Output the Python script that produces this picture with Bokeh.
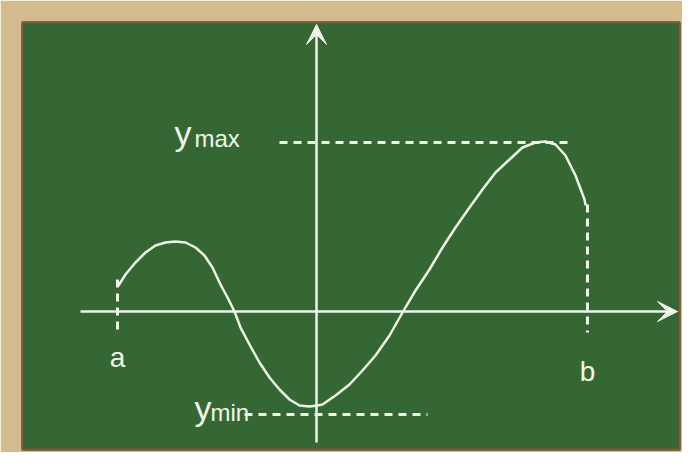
from bokeh.plotting import figure
from bokeh.models import Range1d, Arrow, VeeHead
from bokeh.core.properties import value
from bokeh.embed import file_html
from bokeh.resources import INLINE

# ---- data (origin at axis crossing, y up) ----
curve_x = [-198, -191, -181, -171, -161, -151, -141, -131, -121, -112, -104, -96, -89,
           -82, -76, -67, -57, -47, -37, -27, -17, -7, 1,
           6, 19, 33, 46, 59, 73, 86, 99, 113, 126, 139, 153, 166, 179, 193, 206,
           219, 229, 239, 249, 259, 268, 269]
curve_y = [26, 37, 49, 59, 66, 69, 70, 69, 64, 56, 44, 27, 14,
           0, -16, -33, -51, -66, -78, -88, -94, -95, -94,
           -93, -84, -73, -59, -44, -24, -1, 21, 42, 64, 84, 104, 122, 139, 152, 164,
           169, 170, 167, 156, 136, 112, 107]

a_x, b_x = -199, 271
a_drop = [32, -23]
b_drop = [107, -21]
y_max, y_min = 169, -103
ymax_span = [-37, 254]
ymin_span = [-72, 111]

x_axis_span = [-236, 361]
y_axis_span = [-131, 287]

labels = ["a", "b"]
label_x = [-199, 271]
label_y = [-46, -60]

sub_labels = ["max", "min"]
y_letter_x = [-142, -122]
y_letter_y = [179, -96]
sub_x = [-122, -106]
sub_y = [173, -101]

CHALK = "#eef6e8"
BOARD = "#356734"
WOOD = "#d3bb8e"

p = figure(width=682, height=452, output_backend="svg", toolbar_location=None,
           x_range=Range1d(-294, 363), y_range=Range1d(-138, 289),
           min_border_left=22, min_border_top=22, min_border_right=3, min_border_bottom=3)
p.axis.visible = False
p.grid.visible = False
p.background_fill_color = BOARD
p.border_fill_color = WOOD
p.outline_line_color = "#6a5232"
p.outline_line_width = 3
p.outline_line_alpha = 0.8

# axes with arrowheads
p.add_layout(Arrow(end=VeeHead(size=20, fill_color=CHALK, line_color=CHALK, line_width=1),
                   x_start=x_axis_span[0], y_start=0, x_end=x_axis_span[1], y_end=0,
                   line_color=CHALK, line_width=2.5))
p.add_layout(Arrow(end=VeeHead(size=20, fill_color=CHALK, line_color=CHALK, line_width=1),
                   x_start=0, y_start=y_axis_span[0], x_end=0, y_end=y_axis_span[1],
                   line_color=CHALK, line_width=2.5))

# dashed guide lines
dash = "8 6"
p.line([a_x, a_x], a_drop, line_color=CHALK, line_width=3, line_dash=dash)
p.line([b_x, b_x], b_drop, line_color=CHALK, line_width=3, line_dash=dash)
p.line(ymax_span, [y_max, y_max], line_color=CHALK, line_width=3, line_dash=dash)
p.line(ymin_span, [y_min, y_min], line_color=CHALK, line_width=3, line_dash=dash)

# function curve
p.line(curve_x, curve_y, line_color=CHALK, line_width=2.5, line_join="round", line_cap="round")

# labels
p.text(x=label_x, y=label_y, text=labels, text_font=value("Liberation Sans"),
       text_font_size="28px", text_color=CHALK, text_align="center", text_baseline="alphabetic")
p.text(x=y_letter_x, y=y_letter_y, text=["y", "y"], text_font=value("Liberation Sans"),
       text_font_size="34px", text_color=CHALK, text_align="left", text_baseline="alphabetic")
p.text(x=sub_x, y=sub_y, text=sub_labels, text_font=value("Liberation Sans"),
       text_font_size="24px", text_color=CHALK, text_align="left", text_baseline="alphabetic")

open("out.html", "w").write(file_html(p, INLINE))
